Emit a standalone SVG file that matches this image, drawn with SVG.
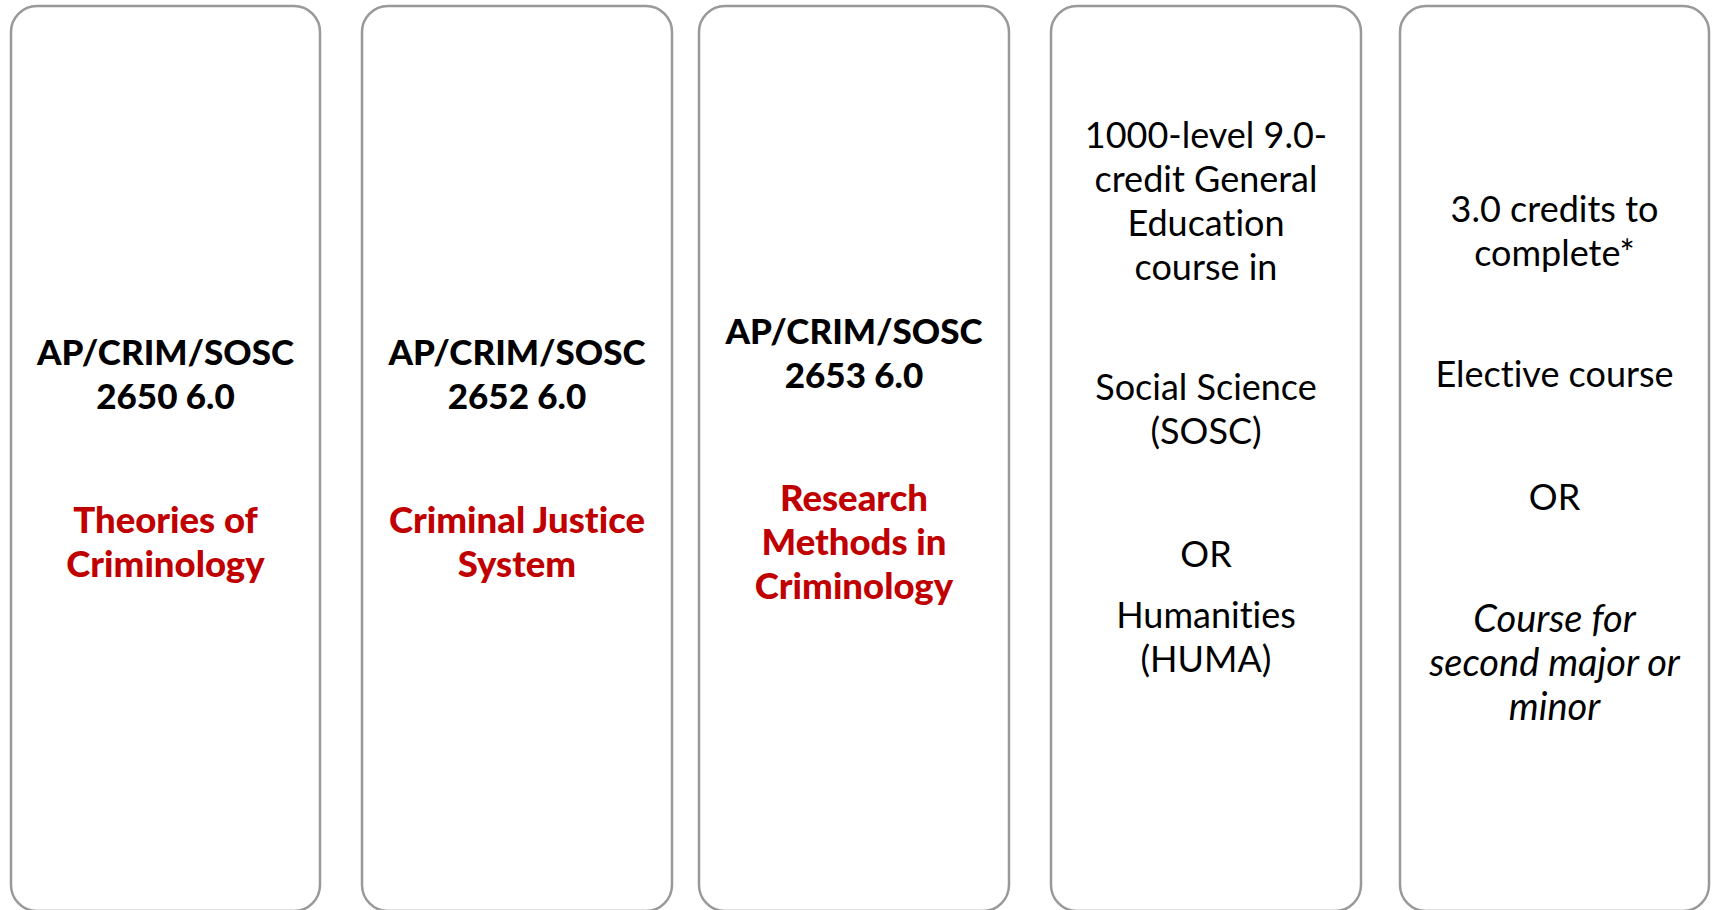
<svg xmlns="http://www.w3.org/2000/svg" width="1716" height="910" viewBox="0 0 1716 910">
<style>
.box{fill:#fff;stroke:#999;stroke-width:2.5}
text{font-family:Lato,"Open Sans","Liberation Sans",sans-serif;font-size:36px;text-anchor:middle;fill:#000;font-variant-ligatures:none}
.b{font-weight:900;font-size:35px}
.r{fill:#C00000;font-weight:900;font-size:36.5px}
.i{font-style:italic;font-size:38px}
</style>
<rect width="1716" height="910" fill="#fff"/>
<g id="connectors"/>
<g id="node1">
<rect class="box" x="11" y="6" width="309" height="905" rx="26"/>
<text class="b" x="165.5" y="365">AP/CRIM/SOSC</text>
<text class="b" x="165.5" y="409">2650 6.0</text>
<text class="r" x="165.5" y="533">Theories of</text>
<text class="r" x="165.5" y="577">Criminology</text>
</g>
<g id="node2">
<rect class="box" x="362" y="6" width="310" height="905" rx="26"/>
<text class="b" x="517" y="365">AP/CRIM/SOSC</text>
<text class="b" x="517" y="409">2652 6.0</text>
<text class="r" x="517" y="533">Criminal Justice</text>
<text class="r" x="517" y="577">System</text>
</g>
<g id="node3">
<rect class="box" x="699" y="6" width="310" height="905" rx="26"/>
<text class="b" x="854" y="344">AP/CRIM/SOSC</text>
<text class="b" x="854" y="388">2653 6.0</text>
<text class="r" x="854" y="511">Research</text>
<text class="r" x="854" y="555">Methods in</text>
<text class="r" x="854" y="599">Criminology</text>
</g>
<g id="node4">
<rect class="box" x="1051" y="6" width="310" height="905" rx="26"/>
<text x="1206" y="148">1000-level 9.0-</text>
<text x="1206" y="192">credit General</text>
<text x="1206" y="236">Education</text>
<text x="1206" y="280">course in</text>
<text x="1206" y="400">Social Science</text>
<text x="1206" y="444">(SOSC)</text>
<text x="1206" y="567">OR</text>
<text x="1206" y="628">Humanities</text>
<text x="1206" y="672">(HUMA)</text>
</g>
<g id="node5">
<rect class="box" x="1400" y="6" width="309" height="905" rx="26"/>
<text x="1554.5" y="222">3.0 credits to</text>
<text x="1554.5" y="266">complete*</text>
<text x="1554.5" y="387">Elective course</text>
<text x="1554.5" y="510">OR</text>
<text class="i" x="1554.5" y="632">Course for</text>
<text class="i" x="1554.5" y="676">second major or</text>
<text class="i" x="1554.5" y="720">minor</text>
</g>
</svg>
